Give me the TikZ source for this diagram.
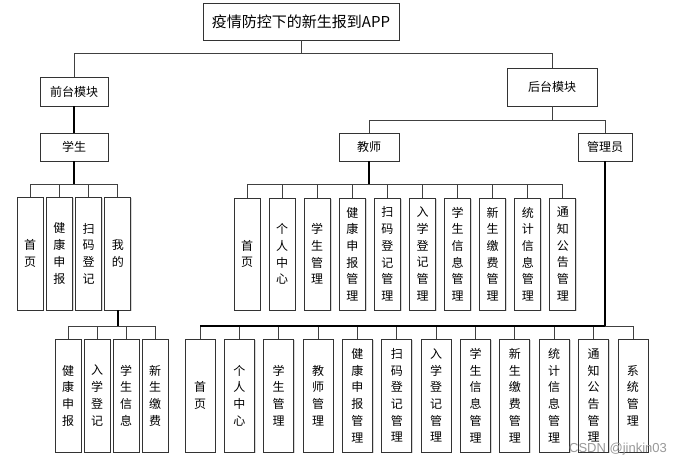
\documentclass[tikz,border=0pt]{standalone}
\usepackage{fontspec}
\newfontfamily\cjk{Noto Sans CJK SC}
\newfontfamily\wmfont{Liberation Sans}
\usetikzlibrary{shadows}
\begin{document}
\begin{tikzpicture}[x=1pt,y=-1pt,
  box/.style={draw=black!80, line width=0.9pt, fill=white, inner sep=0pt,
    drop shadow={shadow xshift=1.3pt, shadow yshift=-1.3pt, opacity=0.3, fill=gray}},
  hbox/.style={box, font=\cjk\fontsize{12}{14}\selectfont},
  vbox/.style={box, align=center, font=\cjk\fontsize{12}{16.7}\selectfont, minimum height=113pt},
  conn/.style={draw=black!75, line width=0.9pt},
  trunk/.style={draw=black, line width=1.4pt}]
\useasboundingbox (0,0) rectangle (683,467);
\fill[white] (0,0) rectangle (683,467);
% bus levels
\coordinate (b1) at (0,53);
\coordinate (b2) at (0,120);
\coordinate (b3) at (0,184);
\coordinate (b4) at (0,326);
% top levels
\node[box, minimum width=196pt, minimum height=37pt, font=\cjk\fontsize{15}{17}\selectfont] (root) at (301,21.5) {疫情防控下的新生报到APP};
\node[hbox, minimum width=68pt, minimum height=29pt] (front) at (74,91.5) {前台模块};
\node[hbox, minimum width=90pt, minimum height=38pt] (back) at (552,87) {后台模块};
\node[hbox, minimum width=68pt, minimum height=28pt] (stu) at (74,147) {学生};
\node[hbox, minimum width=60pt, minimum height=28pt] (tea) at (369,147) {教师};
\node[hbox, minimum width=54pt, minimum height=28pt] (adm) at (605,147) {管理员};
\draw[conn] (root.south) -- (root.south |- b1) -| (front.north);
\draw[conn] (root.south |- b1) -| (back.north);
\draw[trunk] (front.south) -- (stu.north);
\draw[conn] (back.south) -- (back.south |- b2) -| (tea.north);
\draw[conn] (back.south |- b2) -| (adm.north);
% student children
\foreach \t [count=\i] in {{首\\页},{健\\康\\申\\报},{扫\\码\\登\\记},{我\\的}}{
  \node[vbox, minimum width=26pt] (s\i) at ({30+29.3*(\i-1)},253.5) {\t};
  \draw[conn] (stu.south |- b3) -| (s\i.north);
}
\draw[trunk] (stu.south) -- (stu.south |- b3);
% mine children
\foreach \t [count=\i] in {{健\\康\\申\\报},{入\\学\\登\\记},{学\\生\\信\\息},{新\\生\\缴\\费}}{
  \node[vbox, minimum width=26pt] (m\i) at ({68+29*(\i-1)},395.5) {\t};
  \draw[conn] (s4.south |- b4) -| (m\i.north);
}
\draw[trunk] (s4.south) -- (s4.south |- b4);
% teacher children
\foreach \t [count=\i] in {{首\\页},{个\\人\\中\\心},{学\\生\\管\\理},{健\\康\\申\\报\\管\\理},{扫\\码\\登\\记\\管\\理},{入\\学\\登\\记\\管\\理},{学\\生\\信\\息\\管\\理},{新\\生\\缴\\费\\管\\理},{统\\计\\信\\息\\管\\理},{通\\知\\公\\告\\管\\理}}{
  \node[vbox, minimum width=26pt, minimum height=112pt] (t\i) at ({247+35.1*(\i-1)},254) {\t};
  \draw[conn] (tea.south |- b3) -| (t\i.north);
}
\draw[trunk] (tea.south) -- (tea.south |- b3);
% admin children
\foreach \t [count=\i] in {{首\\页},{个\\人\\中\\心},{学\\生\\管\\理},{教\\师\\管\\理},{健\\康\\申\\报\\管\\理},{扫\\码\\登\\记\\管\\理},{入\\学\\登\\记\\管\\理},{学\\生\\信\\息\\管\\理},{新\\生\\缴\\费\\管\\理},{统\\计\\信\\息\\管\\理},{通\\知\\公\\告\\管\\理},{系\\统\\管\\理}}{
  \node[vbox, minimum width=30pt] (a\i) at ({200+39.36*(\i-1)},395.5) {\t};
  \draw[conn] (adm.south |- b4) -| (a\i.north);
}
\draw[trunk] (adm.south) -- (adm.south |- b4);
\draw[trunk] (adm.south |- b4) -- (a1.north |- b4);
% watermark
\node[font=\wmfont\fontsize{13}{14}\selectfont, text=black!40] (wm) at (618,449) {CSDN @jinkin03};
\end{tikzpicture}
\end{document}
